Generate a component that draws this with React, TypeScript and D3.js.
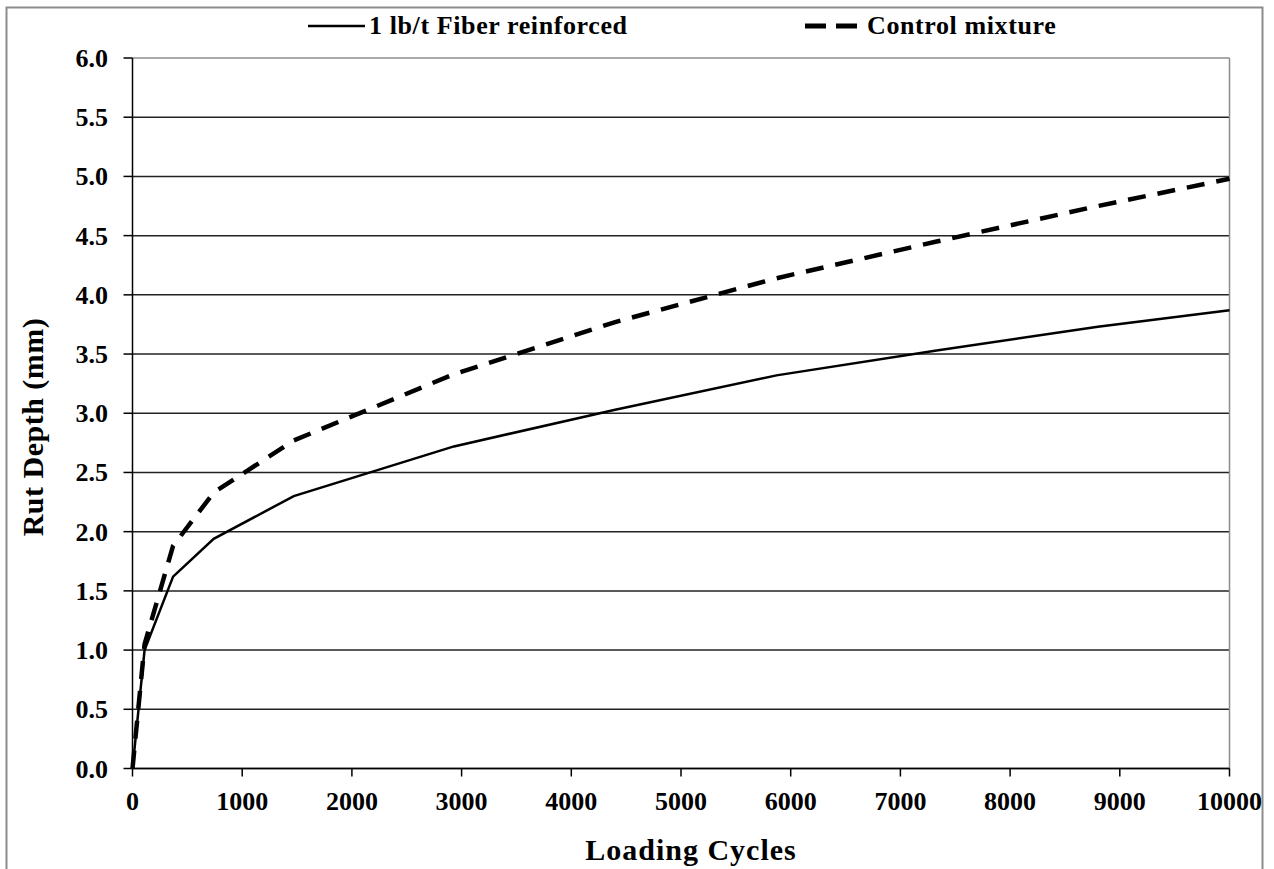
import React from 'react';
import * as d3 from 'd3';

// loading cycles at which rut depth was read
const cycles = [0, 110, 370, 740, 1470, 2930, 4400, 5870, 7330, 8800, 10000];
// rut depth, mm
const fiberDepth = [0, 1.0, 1.62, 1.94, 2.3, 2.72, 3.03, 3.32, 3.53, 3.73, 3.87];
const controlDepth = [0, 1.05, 1.88, 2.33, 2.77, 3.33, 3.77, 4.14, 4.45, 4.75, 4.98];

const xTicks = [0, 1000, 2000, 3000, 4000, 5000, 6000, 7000, 8000, 9000, 10000];
const yTicks = [0, 0.5, 1, 1.5, 2, 2.5, 3, 3.5, 4, 4.5, 5, 5.5, 6];

const FONT = '"Liberation Serif", "Times New Roman", serif';

function T({ x, y, anchor = 'start', size = 22, spacing = 0, children, rotate = 0 }) {
  const tr = rotate ? `translate(${x},${y}) rotate(${rotate})` : `translate(${x},${y})`;
  return (
    <text
      transform={tr}
      textAnchor={anchor}
      fontFamily={FONT}
      fontWeight="bold"
      fontSize={size}
      letterSpacing={spacing}
      fill="#000"
    >
      {children}
    </text>
  );
}

export default function App() {
  const width = 1274;
  const height = 869;

  const x = d3.scaleLinear().domain([0, 10000]).range([132.5, 1229.5]);
  const y = d3.scaleLinear().domain([0, 6]).range([768.5, 58]);

  const line = d3
    .line<number>()
    .x((_, i) => x(cycles[i]))
    .y((d) => y(d));

  return (
    <svg
      width={width}
      height={height}
      style={{ position: 'absolute', left: 0, top: 0, background: '#fff' }}
    >
      <rect x={6.5} y={7.5} width={1256} height={900} fill="#fff" stroke="#8c8c8c" strokeWidth={2} />

      {/* gridlines */}
      {yTicks.map((t) => (
        <line
          key={'g' + t}
          x1={x(0)}
          x2={x(10000)}
          y1={y(t)}
          y2={y(t)}
          stroke={t === 6 ? '#8c8c8c' : '#222'}
          strokeWidth={1.5}
        />
      ))}
      <line x1={x(10000)} x2={x(10000)} y1={y(6)} y2={y(0)} stroke="#8c8c8c" strokeWidth={1.5} />

      {/* axes */}
      <line x1={x(0)} x2={x(0)} y1={y(6)} y2={y(0)} stroke="#000" strokeWidth={1.5} />
      <line x1={x(0)} x2={x(10000)} y1={y(0)} y2={y(0)} stroke="#000" strokeWidth={1.5} />
      {yTicks.map((t) => (
        <g key={'y' + t}>
          <line x1={x(0) - 9} x2={x(0)} y1={y(t)} y2={y(t)} stroke="#000" strokeWidth={1.5} />
          <T x={108} y={y(t) + 9} anchor="end" size={26}>
            {d3.format('.1f')(t)}
          </T>
        </g>
      ))}
      {xTicks.map((t) => (
        <g key={'x' + t}>
          <line x1={x(t)} x2={x(t)} y1={y(0)} y2={y(0) + 8} stroke="#000" strokeWidth={1.5} />
          <T x={x(t)} y={810} anchor="middle" size={26}>
            {t}
          </T>
        </g>
      ))}

      {/* series */}
      <path d={line(fiberDepth)} fill="none" stroke="#000" strokeWidth={2.5} />
      <path
        d={line(controlDepth)}
        fill="none"
        stroke="#000"
        strokeWidth={4.5}
        strokeDasharray="18 12"
      />

      {/* axis titles */}
      <T x={691} y={860} anchor="middle" size={30} spacing={1}>
        Loading Cycles
      </T>
      <T x={43} y={427} anchor="middle" size={30} spacing={0.5} rotate={-90}>
        Rut Depth (mm)
      </T>

      {/* legend */}
      <line x1={308} x2={365} y1={26} y2={26} stroke="#000" strokeWidth={2.5} />
      <T x={369} y={34} size={26} spacing={0.6}>
        1 lb/t Fiber reinforced
      </T>
      <line x1={805} x2={860} y1={26} y2={26} stroke="#000" strokeWidth={5} strokeDasharray="21 10" />
      <T x={867} y={34} size={26} spacing={0.6}>
        Control mixture
      </T>
    </svg>
  );
}
